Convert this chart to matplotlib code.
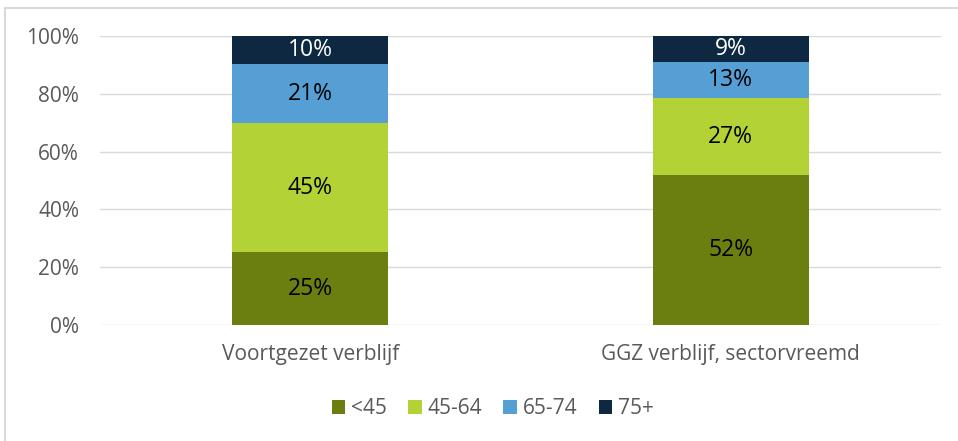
import matplotlib
matplotlib.use("Agg")
import matplotlib.pyplot as plt
from matplotlib.patches import Rectangle

categories = ["Voortgezet verblijf", "GGZ verblijf, sectorvreemd"]
groups = ["<45", "45-64", "65-74", "75+"]
shares = {
    "<45":   [25.2, 51.9],
    "45-64": [44.6, 26.6],
    "65-74": [20.6, 12.6],
    "75+":   [9.6, 8.9],
}
colors = {"<45": "#6A7F10", "45-64": "#B2D235", "65-74": "#559FD4", "75+": "#0E2841"}
label_colors = {"<45": "#000000", "45-64": "#000000", "65-74": "#000000", "75+": "#FFFFFF"}
yticks = [0, 20, 40, 60, 80, 100]
ytick_labels = ["0%", "20%", "40%", "60%", "80%", "100%"]

plt.rcParams['font.family'] = ['Open Sans', 'DejaVu Sans']

fig = plt.figure(figsize=(9.58, 4.41), dpi=100)
fig.patches.append(Rectangle((5/958, -0.1), 1.2, 1 - 8/441 + 0.1, transform=fig.transFigure,
                             fill=False, edgecolor="#D9D9D9", linewidth=1.5))
ax = fig.add_axes([100/958, 1 - 325/441, 841/958, 289/441])

x = list(range(len(categories)))
bottom = [0.0] * len(categories)
for g in groups:
    vals = shares[g]
    ax.bar(x, vals, width=0.37, bottom=bottom, color=colors[g], label=g, zorder=3)
    for i, v in enumerate(vals):
        ax.text(x[i], bottom[i] + v / 2, f"{round(v)}%", ha="center", va="center",
                fontsize=16.5, color=label_colors[g], zorder=4)
    bottom = [b + v for b, v in zip(bottom, vals)]

ax.set_xlim(-0.5, 1.5)
ax.set_ylim(0, 100)
ax.set_yticks(yticks)
ax.set_yticklabels(ytick_labels, fontsize=15, color="#595959")
ax.set_xticks(x)
ax.set_xticklabels(categories, fontsize=15, color="#595959")
ax.tick_params(axis="both", length=0)
ax.tick_params(axis="y", pad=15)
ax.tick_params(axis="x", pad=14)
ax.grid(axis="y", color="#D9D9D9", linewidth=1, zorder=0)
for s in ax.spines.values():
    s.set_visible(False)

handles, labels = ax.get_legend_handles_labels()
fig.legend(handles, labels, loc="center", bbox_to_anchor=(493/958, 1 - 409/441), ncol=4,
           frameon=False, fontsize=15, labelcolor="#595959", handlelength=0.65, handleheight=0.65,
           handletextpad=0.3, columnspacing=1.0)

fig.savefig("out.png", dpi=100)
